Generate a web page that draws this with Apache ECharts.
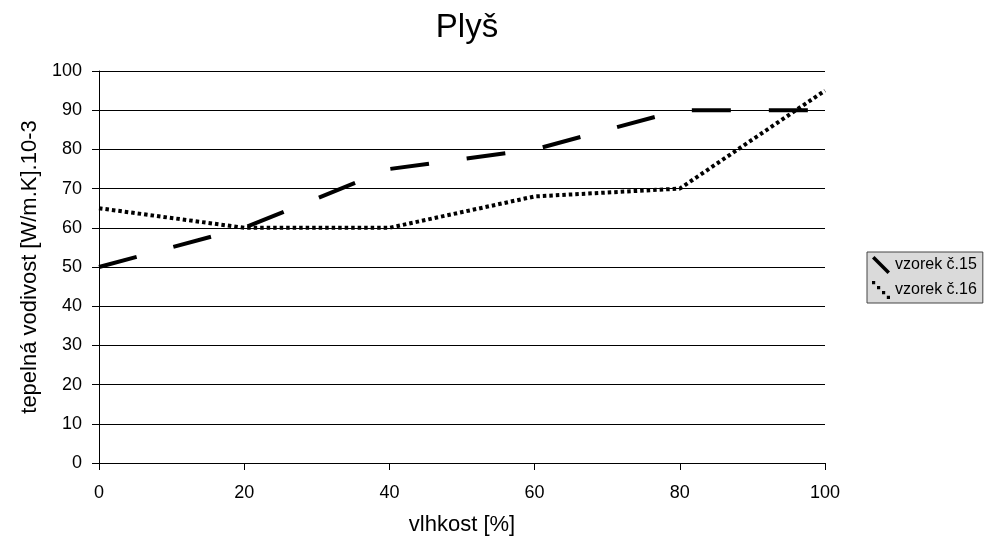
<!DOCTYPE html>
<html><head><meta charset="utf-8">
<script src="https://cdn.jsdelivr.net/npm/echarts@6/dist/echarts.min.js"></script>
<style>html,body{margin:0;padding:0;background:#fff}#c{width:986px;height:543px}</style>
</head><body><div id="c"></div>
<script>
const xValues = [0, 20, 40, 60, 80, 100];
const vzorek15 = [50, 60, 75, 80, 90, 90];
const vzorek16 = [65, 60, 60, 68, 70, 95];
const seriesNames = ['vzorek č.15', 'vzorek č.16'];
const titleText = 'Plyš';
const xName = 'vlhkost [%]';
const yName = 'tepelná vodivost [W/m.K].10-3';

const chart = echarts.init(document.getElementById('c'), null, {renderer: 'canvas'});
const font = 'Liberation Sans, Arial, sans-serif';
const pair = (xs, ys) => xs.map((x, i) => [x, ys[i]]);
chart.setOption({
  animation: false,
  backgroundColor: '#fff',
  textStyle: {fontFamily: font},
  title: {text: titleText, left: 462, textAlign: 'center', top: 6,
    textStyle: {fontFamily: font, fontSize: 33, fontWeight: 'normal', color: '#000'}},
  grid: {left: 99, right: 161, top: 71, bottom: 80, containLabel: false},
  legend: {
    orient: 'vertical', left: 867, top: 252,
    backgroundColor: '#dadada', borderColor: '#444', borderWidth: 1,
    padding: [4, 6, 4, 5], itemGap: 7, itemWidth: 18, itemHeight: 18,
    textStyle: {fontFamily: font, fontSize: 16, color: '#000'},
    data: [
      {name: seriesNames[0], icon: 'path://M0,2.5 L2.5,0 L18,15.5 L15.5,18 Z'},
      {name: seriesNames[1], icon: 'path://M0,0h3.2v3.2h-3.2z M5,5h3.2v3.2h-3.2z M10,10h3.2v3.2h-3.2z M14.8,14.8h3.2v3.2h-3.2z'}
    ]
  },
  xAxis: {
    type: 'value', min: 0, max: 100, interval: 20,
    name: xName, nameLocation: 'middle', nameGap: 51,
    nameTextStyle: {fontFamily: font, fontSize: 22, color: '#000'},
    axisLine: {show: true, lineStyle: {color: '#000', width: 1}},
    axisTick: {show: true, length: 7, lineStyle: {color: '#000'}},
    axisLabel: {fontFamily: font, fontSize: 18, color: '#000', margin: 21},
    splitLine: {show: false}
  },
  yAxis: {
    type: 'value', min: 0, max: 100, interval: 10,
    name: yName, nameLocation: 'middle', nameGap: 58,
    nameTextStyle: {fontFamily: font, fontSize: 22, color: '#000'},
    axisLine: {show: true, lineStyle: {color: '#000', width: 1}},
    axisTick: {show: true, length: 7, lineStyle: {color: '#000'}},
    axisLabel: {fontFamily: font, fontSize: 18, color: '#000', margin: 17},
    splitLine: {show: true, lineStyle: {color: '#000', width: 1}}
  },
  series: [
    {name: seriesNames[0], type: 'line', data: pair(xValues, vzorek15), showSymbol: false,
      color: '#000', lineStyle: {color: '#000', width: 4, type: [39, 38], cap: 'butt'}},
    {name: seriesNames[1], type: 'line', data: pair(xValues, vzorek16), showSymbol: false,
      color: '#000', lineStyle: {color: '#000', width: 4, type: [3.5, 3], cap: 'butt'}}
  ]
});
</script></body></html>
